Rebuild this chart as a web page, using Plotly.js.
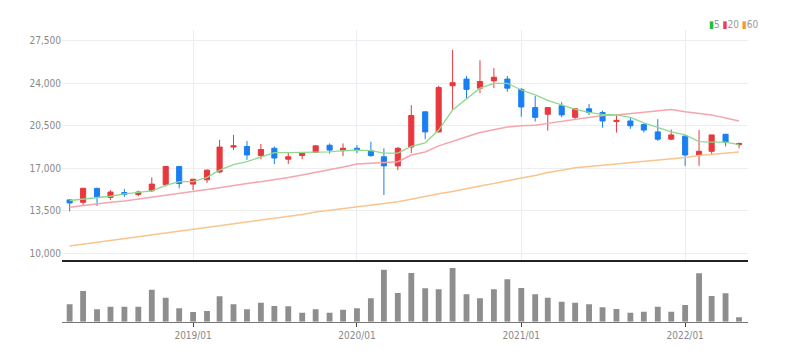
<!DOCTYPE html>
<html>
<head>
<meta charset="utf-8">
<script src="https://cdn.plot.ly/plotly-3.0.1.min.js"></script>
<style>html,body{margin:0;padding:0;background:#fff;}#chart{width:788px;height:362px;}</style>
</head>
<body>
<div id="chart"></div>
<script>
const months = ['2018-04-01','2018-05-01','2018-06-01','2018-07-01','2018-08-01','2018-09-01','2018-10-01','2018-11-01','2018-12-01',
'2019-01-01','2019-02-01','2019-03-01','2019-04-01','2019-05-01','2019-06-01','2019-07-01','2019-08-01','2019-09-01','2019-10-01','2019-11-01','2019-12-01',
'2020-01-01','2020-02-01','2020-03-01','2020-04-01','2020-05-01','2020-06-01','2020-07-01','2020-08-01','2020-09-01','2020-10-01','2020-11-01','2020-12-01',
'2021-01-01','2021-02-01','2021-03-01','2021-04-01','2021-05-01','2021-06-01','2021-07-01','2021-08-01','2021-09-01','2021-10-01','2021-11-01','2021-12-01',
'2022-01-01','2022-02-01','2022-03-01','2022-04-01','2022-05-01'];

const openP  = [14400,14200,15350,14600,15000,14850,15150,15650,17150,15700,16050,16700,18750,18800,18050,18650,17750,18050,18300,18900,18450,18650,18450,17950,17200,18750,21650,20000,23800,24350,23600,24200,24350,23500,22000,21450,22150,21200,21900,21600,20850,20900,20600,20000,19400,19650,18100,18400,19800,18950];
const highP  = [14450,15400,15400,15200,15300,15150,16250,17150,17150,16100,16900,19350,19750,19250,19000,18800,18300,18350,18900,19050,19050,18900,19200,18650,18750,22200,21700,23800,26750,24600,25900,25250,24600,23600,22950,22050,22450,21950,22300,21750,21450,21200,20700,21050,20200,19750,20150,19750,19850,19100];
const lowP   = [13450,13950,13900,14400,14650,14700,15050,15500,15350,15200,15800,16600,18500,17700,17750,17350,17350,17750,18300,18200,18000,18250,17950,14800,16850,18250,19400,19950,21800,22700,23200,23600,23300,21250,20850,20100,21200,21050,21400,20350,19950,20250,19950,19250,19350,17200,17200,18100,18800,18650];
const closeP = [14150,15350,14650,15050,14850,15050,15700,17150,15750,16100,16850,18750,18850,18100,18550,17850,17950,18250,18850,18500,18650,18500,18050,17200,18650,21350,20000,23650,24050,23500,24150,24500,23600,22050,21200,22000,21400,21900,21600,20900,20950,20500,20150,19400,19750,18100,18400,19750,19150,19050];

const ma5  = [14350,14450,14550,14700,14900,15000,15150,15600,15900,15900,16250,16850,17300,17550,17950,18300,18300,18300,18300,18350,18450,18500,18450,18250,18250,18800,19100,20150,21800,22750,23600,24000,24000,23450,23050,22600,22200,21850,21600,21450,21400,21200,20750,20400,20000,19750,19200,19150,19150,18950];
const ma20 = [13800,13950,14100,14200,14300,14450,14600,14750,14900,15100,15250,15400,15600,15750,15900,16100,16250,16450,16650,16900,17100,17350,17400,17450,17550,18100,18350,18850,19250,19600,19950,20150,20400,20500,20550,20700,20850,21050,21200,21350,21400,21500,21600,21750,21850,21650,21550,21400,21150,20900];
const ma60 = [10600,10750,10900,11050,11200,11400,11550,11700,11850,12000,12150,12300,12450,12600,12750,12900,13050,13200,13400,13550,13700,13850,13950,14100,14250,14450,14700,14900,15100,15350,15550,15750,16000,16200,16400,16650,16850,17050,17150,17250,17350,17450,17600,17700,17800,17900,18050,18150,18250,18350];

const volume = [1740000,3070000,1240000,1500000,1500000,1500000,3200000,2400000,1340000,970000,1070000,2540000,1740000,1240000,1900000,1570000,1540000,900000,1240000,900000,1200000,1340000,2340000,5200000,2870000,4870000,3340000,3240000,5370000,2740000,2340000,3240000,4240000,3370000,2740000,2400000,2000000,1900000,1740000,1440000,1270000,900000,1000000,1500000,1000000,1670000,4840000,2570000,2840000,440000];

const maNames = ['5','20','60'];
const maColors = ['#8fd98f','#f5a5ab','#f9c48e'];
const legendColors = ['#22bb33','#f03c46','#f39a33'];

const fontFam = 'Liberation Sans Narrow, DejaVu Sans Condensed, Arial Narrow, Liberation Sans, sans-serif';

const traces = [
  {type:'bar', x:months, y:volume, xaxis:'x', yaxis:'y', marker:{color:'#8e8e8e'}, width:13*86400000, hoverinfo:'skip'},
  {type:'scatter', mode:'lines', x:months, y:ma60, xaxis:'x2', yaxis:'y2', line:{color:maColors[2], width:1.5}, name:maNames[2], hoverinfo:'skip'},
  {type:'scatter', mode:'lines', x:months, y:ma20, xaxis:'x2', yaxis:'y2', line:{color:maColors[1], width:1.5}, name:maNames[1], hoverinfo:'skip'},
  {type:'scatter', mode:'lines', x:months, y:ma5, xaxis:'x2', yaxis:'y2', line:{color:maColors[0], width:1.3}, name:maNames[0], hoverinfo:'skip'},
  {type:'candlestick', x:months, open:openP, high:highP, low:lowP, close:closeP, xaxis:'x2', yaxis:'y2',
   increasing:{line:{color:'#e8383e', width:1}, fillcolor:'#e8383e'},
   decreasing:{line:{color:'#1a7ff0', width:1}, fillcolor:'#1a7ff0'},
   whiskerwidth:0, hoverinfo:'skip'}
];

const xdom = [62/788, 748/788];
const xrange = ['2018-03-15','2022-05-21'];

const layout = {
  width:788, height:362,
  margin:{l:0,r:0,t:0,b:0},
  paper_bgcolor:'#ffffff', plot_bgcolor:'#ffffff',
  showlegend:false,
  boxgap:0.42,
  font:{family:fontFam, size:10, color:'#888'},
  xaxis:{domain:xdom, anchor:'y', type:'date', range:xrange, tickformat:'%Y/%m', dtick:'M12', tick0:'2019-01-01',
         ticks:'outside', ticklen:4, tickcolor:'#444', showline:true, linecolor:'#777', linewidth:1, showgrid:false,
         tickfont:{family:fontFam, size:10, color:'#888'}, rangeslider:{visible:false}, fixedrange:true},
  xaxis2:{domain:xdom, anchor:'y2', type:'date', range:xrange, dtick:'M12', tick0:'2019-01-01', showticklabels:false,
          ticks:'', showgrid:true, gridcolor:'#e9eef4', gridwidth:1, showline:true, linecolor:'#222', linewidth:2,
          rangeslider:{visible:false}, fixedrange:true},
  yaxis:{domain:[(362-321.7)/362, (362-260)/362], anchor:'x', range:[0,6170000], showticklabels:false, showgrid:false,
         zeroline:false, showline:false, ticks:'', fixedrange:true},
  yaxis2:{domain:[(362-260)/362, (362-30)/362], anchor:'x2', range:[9450,28390], tick0:10000, dtick:3500, tickformat:',d',
          showgrid:true, gridcolor:'#eeeeee', gridwidth:1, zeroline:false, showline:false, ticks:'',
          tickfont:{family:fontFam, size:10, color:'#888'}, fixedrange:true},
  annotations:[{
    xref:'paper', yref:'paper', x:760/788, y:(362-24)/362, xanchor:'right', yanchor:'middle', showarrow:false,
    text: maNames.map((n,i)=>'<span style="color:'+legendColors[i]+'">▮</span>'+n).join(' '),
    font:{family:fontFam, size:10, color:'#999'}
  }]
};

Plotly.newPlot('chart', traces, layout, {displayModeBar:false, staticPlot:true});
</script>
</body>
</html>
